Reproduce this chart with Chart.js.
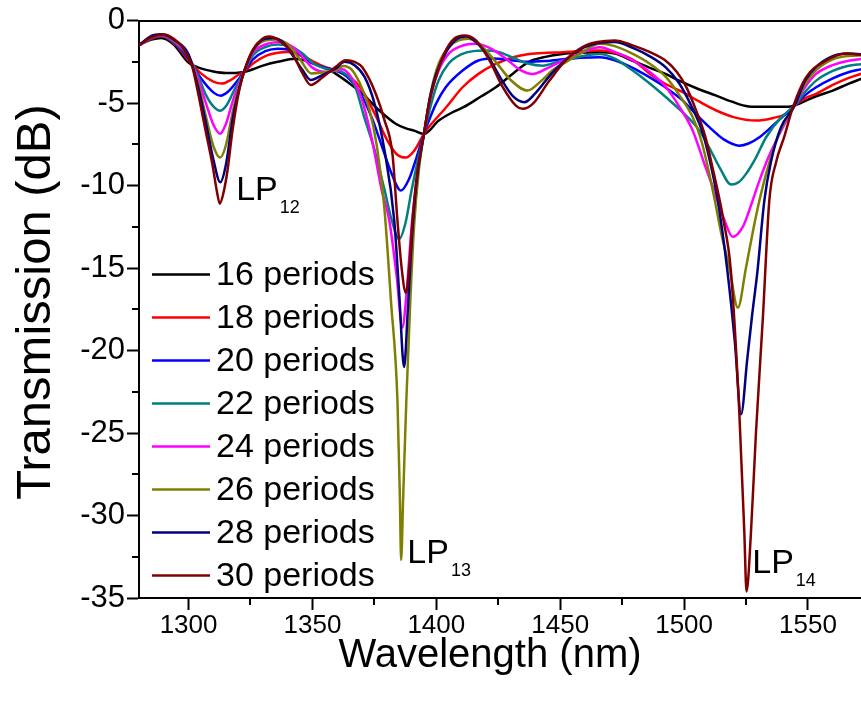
<!DOCTYPE html>
<html><head><meta charset="utf-8">
<script src="https://cdn.jsdelivr.net/npm/chart.js@4.4.1/dist/chart.umd.min.js"></script>
<style>html,body{margin:0;padding:0;background:#fff;overflow:hidden}#wrap{width:861px;height:704px;position:relative}</style>
</head><body><div id="wrap"><canvas id="c" width="861" height="704"></canvas></div>
<script>
const seriesLabels = ['16 periods','18 periods','20 periods','22 periods','24 periods','26 periods','28 periods','30 periods'];
const seriesColors = ['#000000','#ff0000','#0000ff','#008080','#ff00ff','#808000','#000080','#800000'];

const wl16 = [1280,1285,1289,1294,1300,1305,1310,1315,1319,1322.4,1326,1330,1336,1343,1350,1357,1364,1370,1377,1383.6,1388,1391,1395,1401,1406,1411,1418,1424,1431,1437,1444,1451,1458,1466,1472,1479,1486,1492,1498,1505,1513,1519,1526,1533,1538,1543,1547,1553,1560,1566,1572];
const tr16 = [-1.45,-1.15,-1.05,-1.45,-2.55,-2.9,-3.08,-3.17,-3.17,-3.12,-2.95,-2.73,-2.5,-2.32,-2.55,-3.0,-3.7,-4.4,-5.45,-6.25,-6.55,-6.67,-6.87,-6.06,-5.6,-5.25,-4.6,-4.04,-3.2,-2.53,-2.2,-2.02,-1.95,-1.92,-2.0,-2.42,-2.85,-3.2,-3.64,-4.1,-4.55,-4.9,-5.2,-5.22,-5.22,-5.2,-5.0,-4.6,-4.24,-3.85,-3.5];

const wl18 = [1280,1285,1289,1295,1300,1305,1310,1313.5,1317,1320,1322.4,1326,1331,1336,1340,1345,1350,1355,1359.4,1365,1370,1375,1380,1384,1387.7,1391,1395,1397,1404,1410.6,1417,1424,1431,1437.5,1445,1451,1458,1466,1472,1479,1486,1492,1499.5,1506,1513,1520,1529,1536,1541,1544.6,1549,1553.3,1560,1566,1572];
const tr18 = [-1.5,-1.1,-0.95,-1.5,-2.4,-3.2,-3.7,-3.82,-3.6,-3.3,-3.1,-2.6,-2.15,-1.95,-1.9,-2.05,-2.45,-2.8,-3.03,-3.4,-4.2,-5.6,-7.2,-8.1,-8.3,-7.9,-6.87,-6.45,-5.25,-4.04,-3.23,-2.63,-2.22,-2.02,-1.95,-1.92,-1.85,-1.82,-1.95,-2.35,-3.2,-3.8,-4.34,-4.9,-5.45,-5.85,-6.06,-5.9,-5.66,-5.15,-4.7,-4.44,-3.9,-3.5,-3.2];

const wl20 = [1280,1285,1289,1295,1300,1305,1310,1313,1316,1319.5,1322.4,1326,1331,1336,1340,1345,1350,1355,1359.4,1364,1369,1374,1378,1382,1385.7,1389,1392,1395,1397,1400,1403.8,1410.6,1417,1423,1430,1437,1444,1451,1458,1466,1472,1479,1486,1492,1499.5,1505,1510.2,1516,1522.3,1526,1530.4,1537,1544.6,1549,1553.3,1560,1566,1572];
const tr20 = [-1.5,-1.05,-0.9,-1.45,-2.3,-3.5,-4.35,-4.55,-4.3,-3.7,-3.1,-2.35,-1.85,-1.7,-1.75,-2.1,-2.6,-2.85,-3.03,-3.4,-4.3,-5.9,-7.6,-9.3,-10.3,-9.6,-8.3,-6.87,-6.06,-5.0,-4.04,-3.03,-2.42,-2.3,-2.4,-2.5,-2.45,-2.35,-2.25,-2.22,-2.4,-2.85,-3.43,-4.0,-4.85,-5.7,-6.46,-7.2,-7.58,-7.45,-7.07,-6.2,-5.15,-4.5,-4.04,-3.5,-3.15,-2.93];

const wl22 = [1280,1285,1289,1295,1300,1304,1307,1310,1312.8,1315.5,1318.5,1322.4,1326,1331,1336,1341,1346,1350,1355,1359.4,1363,1367,1371,1375,1379,1382,1385,1387.5,1390,1392.5,1395,1398,1401,1405,1410,1415,1420,1425,1431,1437,1443,1449,1457,1466,1472,1479.3,1486,1492.7,1499,1506.2,1510.5,1514.3,1519,1522,1525,1529,1533.1,1539,1544.6,1549,1553.3,1560,1566,1572];
const tr22 = [-1.5,-1.05,-0.9,-1.4,-2.2,-3.4,-4.5,-5.2,-5.46,-5.1,-4.2,-3.1,-2.1,-1.6,-1.45,-1.55,-2.0,-2.55,-2.9,-3.03,-3.2,-3.9,-5.9,-7.8,-10.2,-12.1,-13.24,-12.3,-10.3,-8.5,-6.87,-5.0,-3.6,-2.6,-2.05,-1.85,-1.82,-1.9,-2.25,-2.6,-2.73,-2.5,-2.22,-2.02,-2.3,-3.03,-3.8,-4.65,-5.5,-6.67,-7.8,-8.89,-9.94,-9.8,-9.29,-8.3,-7.07,-5.9,-5.15,-4.3,-3.64,-3.05,-2.75,-2.63];

const wl24 = [1280,1285,1289,1295,1300,1304,1307,1310,1312.7,1315,1318,1320.5,1322.4,1326,1331,1337.5,1342,1346,1350,1355,1359.4,1362,1366,1370,1374,1378,1381,1384,1386.3,1388,1390,1392.5,1395,1398,1401,1405,1410,1416,1422,1428,1434,1438.8,1444,1451,1458,1466,1472,1479.3,1486,1492.7,1498,1503.5,1508,1511.6,1516.3,1519.6,1523.7,1527,1530.4,1534,1538.5,1544.6,1549,1553.3,1560,1566,1572];
const tr24 = [-1.5,-1.0,-0.88,-1.35,-2.15,-3.6,-5.0,-6.3,-6.86,-6.3,-4.8,-3.8,-3.1,-1.95,-1.45,-1.3,-1.6,-2.2,-2.85,-3.1,-3.03,-2.95,-3.5,-4.8,-7.2,-10.3,-12.1,-15.5,-18.6,-16.5,-12.5,-9.2,-6.87,-4.4,-3.0,-2.0,-1.55,-1.41,-1.7,-2.3,-3.0,-3.23,-2.95,-2.42,-2.0,-1.62,-1.9,-2.42,-3.1,-4.04,-5.2,-6.67,-8.6,-10.1,-12.1,-13.1,-12.5,-11.2,-9.7,-8.3,-6.87,-5.15,-4.0,-3.23,-2.7,-2.45,-2.32];

const wl26 = [1280,1285,1289,1295,1300,1304,1307,1310,1312.7,1315,1318,1320.5,1322.4,1326,1330,1335.5,1340,1345,1349.5,1354,1359.4,1362.5,1366,1370,1373,1376,1379,1381.7,1384.3,1385.3,1385.8,1386.6,1387.9,1389.5,1391,1393,1395,1398,1401,1405,1409,1413,1418,1424,1430,1436.8,1442,1447,1451,1458,1466,1472,1479.3,1486,1492.7,1498,1503.5,1507,1511.6,1515,1518.3,1521.7,1525,1528,1530.4,1534,1539,1544.6,1549,1553.3,1560,1566,1572];
const tr26 = [-1.5,-0.95,-0.85,-1.3,-2.1,-3.9,-5.8,-7.6,-8.3,-7.6,-5.4,-4.0,-3.1,-1.85,-1.25,-1.15,-1.45,-2.35,-3.2,-3.15,-3.0,-2.75,-3.0,-4.1,-5.4,-7.6,-11.3,-17.0,-23.0,-29.0,-32.7,-29.0,-23.0,-17.0,-12.5,-9.0,-6.87,-4.2,-2.6,-1.6,-1.2,-1.1,-1.5,-2.5,-3.6,-4.24,-3.7,-3.0,-2.63,-2.0,-1.41,-1.55,-2.02,-2.6,-3.43,-4.5,-5.86,-7.3,-10.3,-12.9,-15.0,-17.4,-14.96,-12.6,-10.9,-8.8,-6.6,-5.15,-3.8,-3.0,-2.35,-2.15,-2.1];

const wl28 = [1280,1285,1289,1295,1300,1304,1307,1310,1312.8,1315,1318,1320.5,1322.4,1326,1330,1334,1338,1342,1346,1349.3,1354,1359.4,1363,1367,1371,1375,1379,1383,1385,1387,1388.5,1390,1392,1395,1397.5,1400,1404,1408,1412,1416,1421,1426,1431,1435.5,1440,1446,1452,1458,1466,1472,1479.3,1486,1492.7,1498,1503,1507.5,1511,1513.6,1517.5,1520.5,1523,1525.5,1527.5,1529.6,1532.4,1535,1539,1544.6,1549,1553.3,1560,1566,1572];
const tr28 = [-1.5,-0.92,-0.82,-1.25,-2.05,-4.1,-6.2,-8.4,-9.8,-8.8,-5.8,-4.1,-3.1,-1.8,-1.15,-1.05,-1.3,-2.1,-3.0,-3.6,-3.3,-2.9,-2.5,-2.7,-3.4,-5.0,-7.8,-12.1,-16.5,-21.0,-17.5,-13.5,-9.8,-6.87,-4.6,-3.2,-1.9,-1.15,-0.97,-1.3,-2.2,-3.5,-4.6,-4.95,-4.4,-3.3,-2.4,-1.75,-1.35,-1.3,-1.65,-2.15,-2.85,-3.8,-5.2,-6.8,-8.9,-10.9,-15.2,-19.5,-23.86,-20.5,-17.8,-15.2,-10.9,-8.6,-6.5,-5.15,-3.6,-2.8,-2.15,-2.0,-2.05];

const wl30 = [1280,1285,1290,1294,1297.5,1301.5,1304.2,1306.9,1309.6,1311.5,1312.6,1314,1315.7,1317.7,1320.4,1322.4,1325.8,1329.8,1332.5,1336.5,1341.9,1346,1349.3,1354,1359.4,1363.5,1367,1370.2,1375.6,1379,1382.3,1384.3,1386,1387.7,1389.3,1390.4,1392.4,1395,1397.1,1399.8,1403.2,1407.2,1411.3,1416,1421.4,1426.7,1432.1,1434.8,1438.9,1445.6,1452.3,1459,1465,1472,1479.2,1486,1492.7,1497,1500.8,1505,1508.5,1511.6,1515.9,1518.9,1522.3,1524.3,1525.2,1527,1529,1531.8,1534.4,1537.1,1540.5,1543.9,1549.2,1557.3,1565.4,1572];
const tr30 = [-1.5,-1.0,-0.85,-1.1,-1.6,-2.8,-4.65,-6.7,-8.7,-10.4,-11.1,-10.5,-9.1,-6.7,-4.25,-3.1,-1.8,-1.1,-0.97,-1.2,-2.0,-3.2,-3.9,-3.45,-2.8,-2.4,-2.5,-2.85,-4.45,-6.0,-8.1,-12.1,-15.0,-16.5,-14.5,-12.1,-9.1,-6.87,-5.0,-3.45,-2.0,-1.1,-0.9,-1.2,-2.4,-4.0,-5.15,-5.35,-5.05,-3.65,-2.4,-1.6,-1.3,-1.2,-1.5,-1.9,-2.45,-3.1,-4.0,-5.5,-7.0,-9.0,-12.1,-15.2,-23.8,-31.0,-34.6,-31.0,-25.0,-18.0,-10.9,-8.6,-7.0,-5.26,-3.44,-2.43,-2.0,-2.1];

const xTickValues = [1300,1325,1350,1375,1400,1425,1450,1475,1500,1525,1550];
const yTickValues = [0,-2.5,-5,-7.5,-10,-12.5,-15,-17.5,-20,-22.5,-25,-27.5,-30,-32.5,-35];
const xTitle = 'Wavelength (nm)';
const yTitle = 'Transmission (dB)';
const modeLabels = [{main:'LP', sub:'12', x:1319.2, y:-10.9},{main:'LP', sub:'13', x:1388.3, y:-32.9},{main:'LP', sub:'14', x:1527.5, y:-33.5}];

const wlSets = [wl16,wl18,wl20,wl22,wl24,wl26,wl28,wl30];
const trSets = [tr16,tr18,tr20,tr22,tr24,tr26,tr28,tr30];
const FONT = "'Liberation Sans', Arial, sans-serif";

const datasets = seriesLabels.map((lab,i)=>({
  label: lab,
  data: wlSets[i].map((x,j)=>({x:x, y:trSets[i][j]})),
  borderColor: seriesColors[i],
  backgroundColor: seriesColors[i],
  borderWidth: 2.5,
  pointRadius: 0,
  fill: false,
  cubicInterpolationMode: 'monotone',
  order: seriesLabels.length - i
}));

const isMajorX = v => Math.abs(v % 50) < 1e-6;
const isMajorY = v => Math.abs(v % 5) < 1e-6;

const extras = {
  id: 'extras',
  afterDraw(chart) {
    const ctx = chart.ctx, xs = chart.scales.x, ys = chart.scales.y, ca = chart.chartArea;
    ctx.save();
    ctx.strokeStyle = '#000'; ctx.lineWidth = 2;
    xTickValues.forEach(v => { if (!isMajorX(v)) { const px = Math.round(xs.getPixelForValue(v)); ctx.beginPath(); ctx.moveTo(px, ca.bottom); ctx.lineTo(px, ca.bottom + 7); ctx.stroke(); } });
    yTickValues.forEach(v => { if (!isMajorY(v)) { const py = Math.round(ys.getPixelForValue(v)); ctx.beginPath(); ctx.moveTo(ca.left, py); ctx.lineTo(ca.left - 7, py); ctx.stroke(); } });
    ctx.fillStyle = '#000';
    ctx.textBaseline = 'alphabetic'; ctx.textAlign = 'center';
    ctx.font = '40px ' + FONT;
    ctx.fillText(xTitle, 490, 667);
    ctx.save();
    ctx.translate(50, 302); ctx.rotate(-Math.PI / 2);
    ctx.font = '49px ' + FONT;
    ctx.fillText(yTitle, 0, 0);
    ctx.restore();
    ctx.textBaseline = 'middle'; ctx.textAlign = 'left';
    ctx.font = '34px ' + FONT;
    seriesLabels.forEach((lab,i) => {
      const y = ca.top + 254 + i * 43;
      ctx.strokeStyle = seriesColors[i]; ctx.lineWidth = 2.5;
      ctx.beginPath(); ctx.moveTo(ca.left + 13, y); ctx.lineTo(ca.left + 71, y); ctx.stroke();
      ctx.fillStyle = '#000'; ctx.fillText(lab, ca.left + 77, y + 1);
    });
    ctx.textBaseline = 'alphabetic';
    modeLabels.forEach(m => {
      const px = xs.getPixelForValue(m.x), py = ys.getPixelForValue(m.y);
      ctx.font = '34px ' + FONT; ctx.fillStyle = '#000';
      ctx.fillText(m.main, px, py);
      const w = ctx.measureText(m.main).width;
      ctx.font = '18px ' + FONT;
      ctx.fillText(m.sub, px + w + 2, py + 13);
    });
    ctx.restore();
  }
};

new Chart(document.getElementById('c'), {
  type: 'line',
  data: { datasets },
  options: {
    responsive: false, animation: false, devicePixelRatio: 1,
    layout: { padding: { top: 20, left: 0, right: 0, bottom: 0 } },
    plugins: { legend: { display: false }, tooltip: { enabled: false } },
    scales: {
      x: {
        type: 'linear', position: 'bottom', min: 1280, max: 1571.4,
        afterBuildTicks: s => { s.ticks = xTickValues.map(v => ({ value: v })); },
        afterFit: s => { s.height = 106; },
        ticks: { callback: v => isMajorX(v) ? String(v) : '', font: { family: FONT, size: 26 }, color: '#000', padding: 0, maxRotation: 0, autoSkip: false },
        grid: { drawOnChartArea: false, drawTicks: true, tickLength: 12, tickWidth: 2, tickColor: c => (c.tick && !isMajorX(c.tick.value)) ? 'rgba(0,0,0,0)' : '#000' },
        border: { display: true, color: '#000', width: 2 }
      },
      xTop: {
        type: 'linear', position: 'top', min: 1280, max: 1571.4,
        afterFit: s => { s.height = 0; },
        ticks: { display: false }, grid: { display: false, drawTicks: false },
        border: { display: true, color: '#000', width: 2 }
      },
      y: {
        type: 'linear', position: 'left', min: -35, max: 0,
        afterBuildTicks: s => { s.ticks = yTickValues.map(v => ({ value: v })); },
        afterFit: s => { s.width = 139; },
        ticks: { callback: v => isMajorY(v) ? String(v) : '', font: { family: FONT, size: 31 }, color: '#000', padding: 2, autoSkip: false },
        grid: { drawOnChartArea: false, drawTicks: true, tickLength: 12, tickWidth: 2, tickColor: c => (c.tick && !isMajorY(c.tick.value)) ? 'rgba(0,0,0,0)' : '#000' },
        border: { display: true, color: '#000', width: 2 }
      }
    }
  },
  plugins: [extras]
});
</script>
</body></html>
